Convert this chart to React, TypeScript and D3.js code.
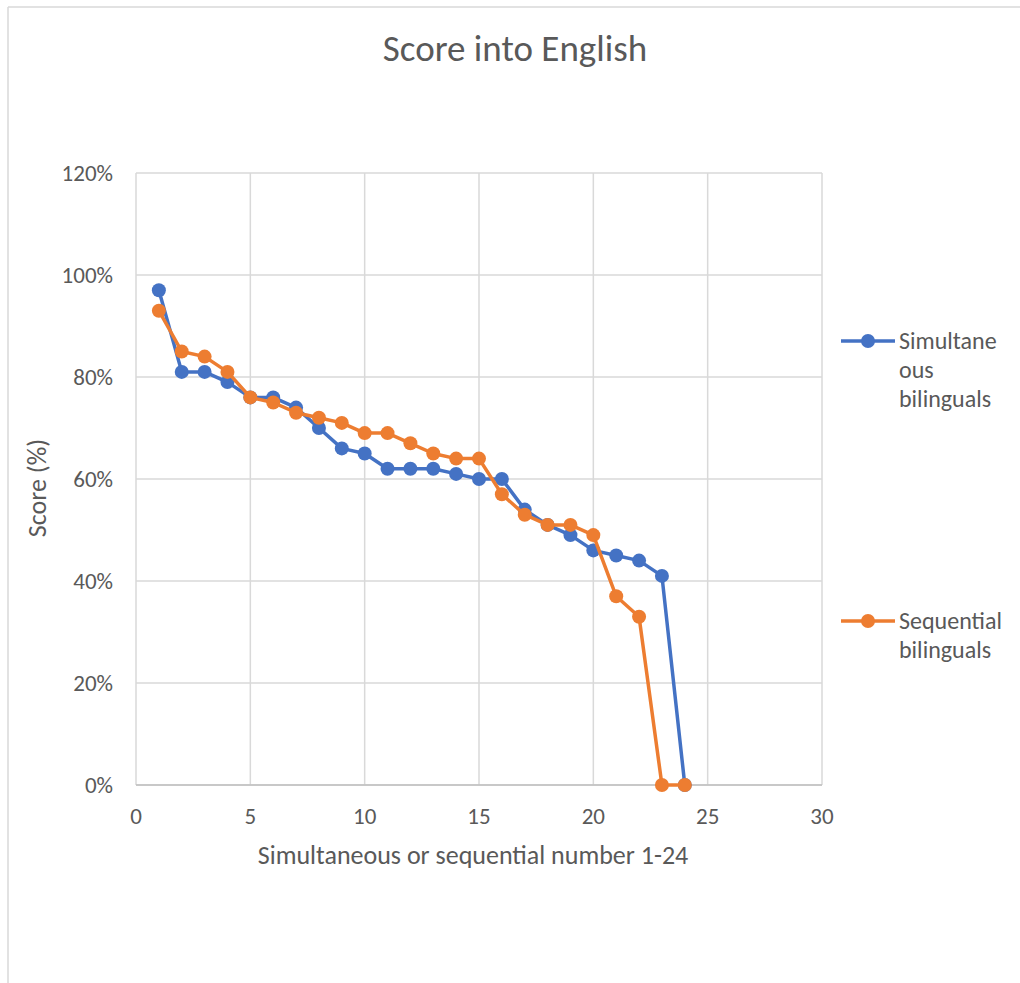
import React from "react";
import * as d3 from "d3";

const xValues = [1,2,3,4,5,6,7,8,9,10,11,12,13,14,15,16,17,18,19,20,21,22,23,24];
const simultaneous = [97,81,81,79,76,76,74,70,66,65,62,62,62,61,60,60,54,51,49,46,45,44,41,0];
const sequential = [93,85,84,81,76,75,73,72,71,69,69,67,65,64,64,57,53,51,51,49,37,33,0,0];
const xTicks = [0,5,10,15,20,25,30];
const yTicks = [0,20,40,60,80,100,120];
const seriesNames = ["Simultaneous bilinguals", "Sequential bilinguals"];
const legendLines = [["Simultane", "ous", "bilinguals"], ["Sequential", "bilinguals"]];
const colors = ["#4472C4", "#ED7D31"];

const W = 1020, H = 983;
const left = 136, right = 822, top = 173, bottom = 785;
const font = "Carlito, Calibri, Lato, sans-serif";

export default function App() {
  const x = d3.scaleLinear().domain([0, 30]).range([left, right]);
  const y = d3.scaleLinear().domain([0, 120]).range([bottom, top]);
  const line = d3.line<[number, number]>().x(d => x(d[0])).y(d => y(d[1]));
  const series = [simultaneous, sequential].map(vals => xValues.map((xv, i) => [xv, vals[i]] as [number, number]));
  const legendY = [341, 621];

  return (
    <div style={{ position: "absolute", left: 0, top: 0 }}>
      <svg width={W} height={H} style={{ display: "block", fontFamily: font }}>
        <rect x={0} y={0} width={W} height={H} fill="#fff" />
        <line x1={8} y1={7} x2={W} y2={7} stroke="#d9d9d9" strokeWidth={1.5} />
        <line x1={8} y1={7} x2={8} y2={H} stroke="#d9d9d9" strokeWidth={1.5} />
        <text x={515} y={61} textAnchor="middle" fontSize={37} fill="#595959">Score into English</text>
        {yTicks.map(t => (
          <line key={"gy" + t} x1={left} x2={right} y1={y(t)} y2={y(t)} stroke="#d9d9d9" strokeWidth={1.5} />
        ))}
        {xTicks.map(t => (
          <line key={"gx" + t} x1={x(t)} x2={x(t)} y1={top} y2={bottom} stroke="#d9d9d9" strokeWidth={1.5} />
        ))}
        <line x1={left} x2={right} y1={bottom} y2={bottom} stroke="#bfbfbf" strokeWidth={1.5} />
        {yTicks.map(t => (
          <text key={"ty" + t} x={113} y={y(t) + 8} textAnchor="end" fontSize={23} fill="#595959">{t + "%"}</text>
        ))}
        {xTicks.map(t => (
          <text key={"tx" + t} x={x(t)} y={824} textAnchor="middle" fontSize={23} fill="#595959">{t}</text>
        ))}
        <text x={473} y={864} textAnchor="middle" fontSize={26} fill="#595959">Simultaneous or sequential number 1-24</text>
        <text transform={`translate(46,488) rotate(-90)`} textAnchor="middle" fontSize={26} fill="#595959">Score (%)</text>
        {series.map((s, i) => (
          <g key={seriesNames[i]}>
            <path d={line(s) || ""} fill="none" stroke={colors[i]} strokeWidth={3.5} strokeLinejoin="round" />
            {s.map((p, j) => (
              <circle key={j} cx={x(p[0])} cy={y(p[1])} r={7} fill={colors[i]} />
            ))}
          </g>
        ))}
        {seriesNames.map((n, i) => (
          <g key={"lg" + n}>
            <line x1={841} x2={895} y1={legendY[i]} y2={legendY[i]} stroke={colors[i]} strokeWidth={3.5} />
            <circle cx={868} cy={legendY[i]} r={7} fill={colors[i]} />
            {legendLines[i].map((t, k) => (
              <text key={k} x={899} y={legendY[i] + 8 + k * 29} fontSize={24} fill="#595959">{t}</text>
            ))}
          </g>
        ))}
      </svg>
    </div>
  );
}
